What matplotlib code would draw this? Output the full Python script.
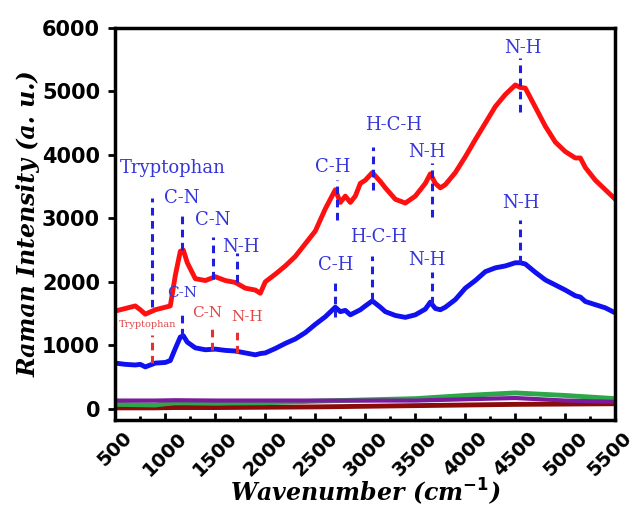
import numpy as np
from matplotlib import pyplot as plt
from matplotlib.ticker import MultipleLocator
from matplotlib.transforms import ScaledTranslation

wn = [500, 600, 700, 750, 800, 900, 1000, 1050, 1100, 1150, 1180, 1220, 1300,
      1400, 1500, 1600, 1700, 1800, 1900, 1950, 2000, 2100, 2200, 2300, 2400,
      2500, 2600, 2700, 2750, 2800, 2850, 2900, 2950, 3000, 3070, 3150, 3200,
      3300, 3400, 3500, 3600, 3650, 3700, 3750, 3800, 3900, 4000, 4100, 4200,
      4300, 4400, 4500, 4550, 4600, 4700, 4800, 4900, 5000, 5100, 5150, 5200,
      5300, 5400, 5500]

red_spec = [1540, 1580, 1620, 1560, 1490, 1560, 1600, 1620, 2100, 2480, 2500,
            2300, 2050, 2020, 2080, 2020, 1990, 1900, 1870, 1820, 2000, 2120,
            2250, 2400, 2600, 2800, 3150, 3450, 3250, 3350, 3250, 3350, 3550,
            3600, 3720, 3580, 3480, 3300, 3240, 3350, 3550, 3700, 3550, 3480,
            3530, 3720, 3970, 4240, 4500, 4760, 4950, 5100, 5060, 5050, 4750,
            4450, 4200, 4050, 3950, 3950, 3800, 3600, 3450, 3300]

blue_spec = [720, 700, 690, 700, 660, 720, 730, 760, 950, 1130, 1150, 1050,
             960, 930, 940, 920, 910, 880, 850, 870, 880, 950, 1030, 1100,
             1200, 1330, 1450, 1600, 1530, 1550, 1480, 1520, 1560, 1620, 1700,
             1600, 1530, 1470, 1440, 1480, 1570, 1680, 1580, 1560, 1600, 1720,
             1900, 2020, 2160, 2220, 2250, 2300, 2300, 2280, 2150, 2030, 1950,
             1870, 1780, 1760, 1690, 1640, 1590, 1510]

base_wn = [500, 900, 1100, 1500, 2000, 2500, 3000, 3500, 4000, 4500, 5000, 5500]
purple_spec = [130, 130, 135, 130, 130, 130, 130, 130, 150, 170, 130, 110]
green_spec = [70, 60, 100, 90, 95, 120, 140, 160, 210, 250, 210, 160]
darkred_spec = [15, 15, 20, 20, 25, 30, 40, 50, 60, 70, 75, 80]

x_ticks = [500, 1000, 1500, 2000, 2500, 3000, 3500, 4000, 4500, 5000, 5500]

# peak markers: x, top and bottom of the dashed line, colour
mark_x = [870, 1170, 1480, 1720, 2720, 3080, 3670, 4550,
          870, 1170, 1470, 1720, 2700, 3070, 3670, 4550]
mark_top = [3320, 3090, 2710, 2450, 3600, 4130, 3870, 5530,
            1170, 1560, 1320, 1280, 2050, 2400, 2150, 2980]
mark_bot = [1600, 2500, 2050, 1990, 2980, 3450, 3020, 4680,
            720, 1150, 930, 880, 1450, 1720, 1650, 2300]
mark_col = ['#1f1fe0'] * 8 + ['#e83030', '#1f1fe0', '#e83030', '#e83030',
                             '#1f1fe0', '#1f1fe0', '#1f1fe0', '#1f1fe0']

# peak labels
lab_text = ['Tryptophan', 'C-N', 'C-N', 'N-H', 'C-H', 'H-C-H', 'N-H', 'N-H',
            'Tryptophan', 'C-N', 'C-N', 'N-H', 'C-H', 'H-C-H', 'N-H', 'N-H']
lab_x = [1080, 1160, 1470, 1760, 2670, 3280, 3620, 4570,
         820, 1170, 1420, 1820, 2700, 3130, 3620, 4550]
lab_y = [3790, 3320, 2980, 2550, 3810, 4470, 4050, 5680,
         1320, 1830, 1510, 1450, 2270, 2710, 2350, 3240]
lab_col = ['#3535dc'] * 8 + ['#e04848', '#3535dc', '#e04848', '#e04848',
                            '#3535dc', '#3535dc', '#3535dc', '#3535dc']
lab_size = [13, 13, 13, 13, 13, 13, 13, 13,
            7, 11, 11, 11, 13, 13, 13, 13]

fig = plt.figure(figsize=(6.37, 5.15), dpi=100)
ax = fig.add_axes([0.181, 0.184, 0.785, 0.762])

ax.plot(base_wn, darkred_spec, color='#8b0a0a', lw=3.5)
ax.plot(base_wn, green_spec, color='#2ca84a', lw=3.5)
ax.plot(base_wn, purple_spec, color='#7b1a9a', lw=3)
ax.plot(wn, red_spec, color='#ff1010', lw=3.5)
ax.plot(wn, blue_spec, color='#1010f0', lw=3.5)

for x, y0, y1, c in zip(mark_x, mark_top, mark_bot, mark_col):
    ax.plot([x, x], [y1, y0], color=c, lw=2.2, linestyle=(0, (2.5, 1.8)))

for t, x, y, c, s in zip(lab_text, lab_x, lab_y, lab_col, lab_size):
    ax.text(x, y, t, color=c, fontsize=s, family='DejaVu Serif',
            ha='center', va='center')

ax.set_xlim(500, 5500)
ax.set_ylim(-180, 6000)
ax.set_xticks(x_ticks)
ax.set_xticklabels([])
ax.xaxis.set_minor_locator(MultipleLocator(250))
ax.yaxis.set_major_locator(MultipleLocator(1000))

ax.tick_params(axis='x', which='both', direction='in', width=2)
ax.tick_params(axis='x', which='major', length=5)
ax.tick_params(axis='x', which='minor', length=3)
ax.tick_params(axis='y', direction='out', length=5, width=2, pad=6)
for spine in ax.spines.values():
    spine.set_linewidth(2.5)

# rotated x tick labels; the last one is nudged left to stay on the figure
for i, v in enumerate(x_ticks):
    dx = -0.06 if i == len(x_ticks) - 1 else 0.0
    tr = ax.get_xaxis_transform() + ScaledTranslation(dx, -0.08,
                                                      fig.dpi_scale_trans)
    ax.text(v, 0, str(v), transform=tr, rotation=45, ha='center', va='top',
            fontsize=14, fontweight='bold', clip_on=False)

for lbl in ax.get_yticklabels():
    lbl.set_fontweight('bold')
    lbl.set_fontsize(15)

ax.set_xlabel('Wavenumber (cm$^{\\mathbf{-1}}$)', family='DejaVu Serif',
              fontsize=17, fontweight='bold', style='italic', labelpad=37)
ax.set_ylabel('Raman Intensity (a. u.)', family='DejaVu Serif',
              fontsize=17, fontweight='bold', style='italic', labelpad=1)

fig.savefig('out.png', dpi=100)
